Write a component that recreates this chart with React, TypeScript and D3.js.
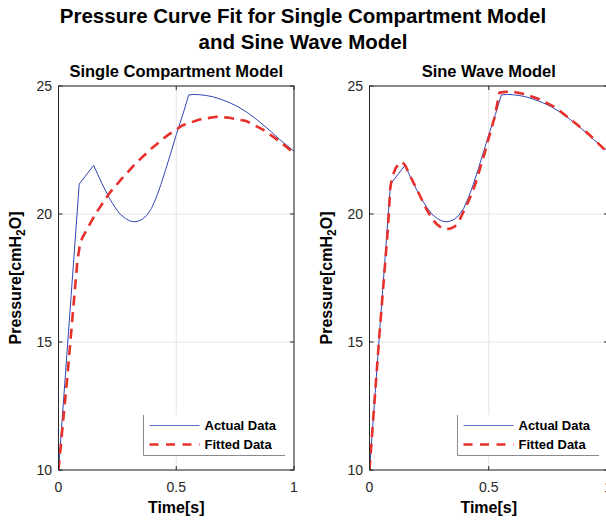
import React from "react";
import * as d3 from "d3";

const W = 606;
const H = 520;

const xTicks = [0, 0.5, 1];
const xTickLabels = ["0", "0.5", "1"];
const yTicks = [10, 15, 20, 25];
const yTickLabels = ["10", "15", "20", "25"];

const timeActual = [0, 0.088, 0.149, 0.185, 0.216, 0.24, 0.262, 0.285, 0.305, 0.318, 0.335, 0.355, 0.375, 0.395, 0.414, 0.435, 0.457, 0.48, 0.5, 0.528, 0.553, 0.575, 0.599, 0.627, 0.655, 0.69, 0.726, 0.762, 0.797, 0.832, 0.868, 0.904, 0.939, 0.97, 1.0];
const pressureActual = [10, 21.17, 21.9, 21.18, 20.62, 20.26, 19.99, 19.82, 19.72, 19.7, 19.71, 19.79, 19.95, 20.22, 20.62, 21.15, 21.79, 22.48, 23.1, 23.89, 24.65, 24.67, 24.66, 24.63, 24.58, 24.48, 24.35, 24.19, 23.99, 23.76, 23.49, 23.21, 22.91, 22.68, 22.45];

const timeFitSingle = [0, 0.04, 0.08, 0.09, 0.1, 0.119, 0.14, 0.159, 0.216, 0.265, 0.329, 0.4, 0.464, 0.528, 0.599, 0.67, 0.726, 0.797, 0.868, 0.939, 1.0];
const pressureFitSingle = [10, 13.9, 18.15, 18.75, 19.05, 19.37, 19.72, 20.03, 20.81, 21.34, 21.99, 22.6, 23.08, 23.47, 23.69, 23.8, 23.76, 23.63, 23.3, 22.84, 22.38];

const timeFitSine = [0, 0.04, 0.077, 0.087, 0.095, 0.11, 0.125, 0.137, 0.15, 0.168, 0.203, 0.237, 0.26, 0.279, 0.3, 0.321, 0.34, 0.356, 0.375, 0.391, 0.41, 0.433, 0.45, 0.468, 0.485, 0.5, 0.524, 0.545, 0.57, 0.6, 0.656, 0.712, 0.782, 0.852, 0.922, 0.986, 1.0];
const pressureFitSine = [10, 15.1, 19.4, 21.0, 21.45, 21.8, 21.98, 22.03, 21.9, 21.53, 20.88, 20.22, 19.85, 19.63, 19.47, 19.41, 19.43, 19.5, 19.72, 20.03, 20.4, 20.88, 21.35, 21.92, 22.45, 22.97, 23.76, 24.74, 24.77, 24.78, 24.67, 24.48, 24.15, 23.63, 23.1, 22.51, 22.4];

const titleLines = ["Pressure Curve Fit for Single Compartment Model", "and Sine Wave Model"];
const panelTitles = ["Single Compartment Model", "Sine Wave Model"];
const legendLabels = ["Actual Data", "Fitted Data"];

const FONT = "'Liberation Sans', Arial, Helvetica, sans-serif";
const AXIS = "#262626";
const GRID = "#e3e3e3";
const BLUE = "#3146b4";
const RED = "#e8302a";

type Panel = {
  title: string;
  left: number;
  right: number;
  fitT: number[];
  fitP: number[];
};

const panels: Panel[] = [
  { title: panelTitles[0], left: 58.5, right: 294, fitT: timeFitSingle, fitP: pressureFitSingle },
  { title: panelTitles[1], left: 369.5, right: 608, fitT: timeFitSine, fitP: pressureFitSine },
];

const TOP = 86;
const BOTTOM = 470;

function PanelView({ p, idx }: { p: Panel; idx: number }) {
  const x = d3.scaleLinear().domain([0, 1]).range([p.left, p.right]);
  const y = d3.scaleLinear().domain([10, 25]).range([BOTTOM, TOP]);
  const line = d3
    .line<[number, number]>()
    .x((d) => x(d[0]))
    .y((d) => y(d[1]))
    .curve(d3.curveLinear);
  const actual = timeActual.map((t, i) => [t, pressureActual[i]] as [number, number]);
  const fit = p.fitT.map((t, i) => [t, p.fitP[i]] as [number, number]);
  const tick = 4;
  const cx = (p.left + p.right) / 2;
  const cy = (TOP + BOTTOM) / 2;
  const lgRight = p.right - 9;
  const lgLeft = lgRight - 141.5;
  const lgTop = 415;
  const lgBottom = 455.5;
  const clipId = `clip${idx}`;
  return (
    <g>
      <defs>
        <clipPath id={clipId}>
          <rect x={p.left} y={TOP} width={p.right - p.left} height={BOTTOM - TOP} />
        </clipPath>
      </defs>
      <rect x={p.left} y={TOP} width={p.right - p.left} height={BOTTOM - TOP} fill="#fff" />
      {xTicks.map((t) => (
        <line key={`gx${t}`} x1={x(t)} x2={x(t)} y1={TOP} y2={BOTTOM} stroke={GRID} strokeWidth={1} />
      ))}
      {yTicks.map((t) => (
        <line key={`gy${t}`} x1={p.left} x2={p.right} y1={y(t)} y2={y(t)} stroke={GRID} strokeWidth={1} />
      ))}
      <g clipPath={`url(#${clipId})`}>
        <path d={line(actual) || ""} fill="none" stroke={BLUE} strokeWidth={1} />
        <path d={line(fit) || ""} fill="none" stroke={RED} strokeWidth={2.6} strokeDasharray="10,6.5" />
      </g>
      <rect x={lgLeft} y={lgTop} width={lgRight - lgLeft} height={lgBottom - lgTop} fill="#fff" />
      <line x1={lgLeft} x2={lgLeft} y1={lgTop} y2={lgBottom} stroke="#8a8a8a" strokeWidth={1} />
      <line x1={lgLeft} x2={lgRight} y1={lgBottom} y2={lgBottom} stroke="#8a8a8a" strokeWidth={1} />
      <line x1={lgLeft + 6} x2={lgLeft + 56} y1={425.5} y2={425.5} stroke="#5a6cc4" strokeWidth={1} />
      <line x1={lgLeft + 6} x2={lgLeft + 56} y1={444.5} y2={444.5} stroke={RED} strokeWidth={2.6} strokeDasharray="9,7.5" />
      <text x={lgLeft + 61} y={430} fontFamily={FONT} fontWeight="bold" fontSize={13} fill="#000">{legendLabels[0]}</text>
      <text x={lgLeft + 61} y={449} fontFamily={FONT} fontWeight="bold" fontSize={13} fill="#000">{legendLabels[1]}</text>
      <rect x={p.left} y={TOP} width={p.right - p.left} height={BOTTOM - TOP} fill="none" stroke={AXIS} strokeWidth={1} />
      {xTicks.map((t) => (
        <g key={`tx${t}`}>
          <line x1={x(t)} x2={x(t)} y1={BOTTOM} y2={BOTTOM - tick} stroke={AXIS} />
          <line x1={x(t)} x2={x(t)} y1={TOP} y2={TOP + tick} stroke={AXIS} />
        </g>
      ))}
      {yTicks.map((t) => (
        <g key={`ty${t}`}>
          <line x1={p.left} x2={p.left + tick} y1={y(t)} y2={y(t)} stroke={AXIS} />
          <line x1={p.right} x2={p.right - tick} y1={y(t)} y2={y(t)} stroke={AXIS} />
        </g>
      ))}
      {xTicks.map((t, i) => (
        <text key={`lx${t}`} x={x(t)} y={492} textAnchor="middle" fontFamily={FONT} fontSize={14} fill={AXIS}>
          {xTickLabels[i]}
        </text>
      ))}
      {yTicks.map((t, i) => (
        <text key={`ly${t}`} x={p.left - 6.5} y={y(t) + 5} textAnchor="end" fontFamily={FONT} fontSize={14} fill={AXIS}>
          {yTickLabels[i]}
        </text>
      ))}
      <text x={cx} y={77} textAnchor="middle" fontFamily={FONT} fontWeight="bold" fontSize={16.5} fill="#000">
        {p.title}
      </text>
      <text x={cx} y={513} textAnchor="middle" fontFamily={FONT} fontWeight="bold" fontSize={16} fill="#000">
        Time[s]
      </text>
      <text
        transform={`translate(${p.left - 38},${cy}) rotate(-90)`}
        textAnchor="middle"
        fontFamily={FONT}
        fontWeight="bold"
        fontSize={16}
        fill="#000"
      >
        Pressure[cmH<tspan dy={4} fontSize={12}>2</tspan>
        <tspan dy={-4}>O]</tspan>
      </text>
    </g>
  );
}

export default function App() {
  return (
    <div style={{ position: "fixed", left: 0, top: 0, width: W, height: H, overflow: "hidden", background: "#fff" }}>
      <svg width={W} height={H} viewBox={`0 0 ${W} ${H}`} style={{ display: "block" }}>
        <rect x={0} y={0} width={W} height={H} fill="#fff" />
        <text x={W / 2} y={23} textAnchor="middle" fontFamily={FONT} fontWeight="bold" fontSize={20.5} fill="#000">
          {titleLines[0]}
        </text>
        <text x={W / 2} y={49} textAnchor="middle" fontFamily={FONT} fontWeight="bold" fontSize={20.5} fill="#000">
          {titleLines[1]}
        </text>
        {panels.map((p, i) => (
          <PanelView key={i} p={p} idx={i} />
        ))}
      </svg>
    </div>
  );
}
